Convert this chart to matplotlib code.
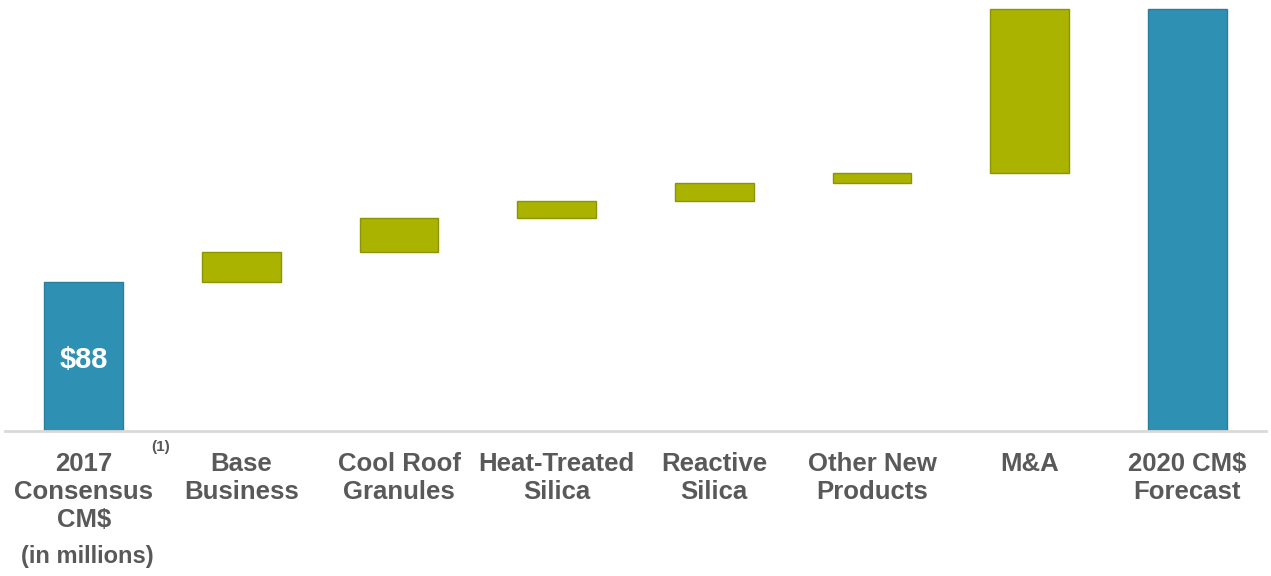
import matplotlib.pyplot as plt
import numpy as np

plt.rcParams['font.family'] = ['Liberation Sans', 'DejaVu Sans']

labels = ['2017\nConsensus\nCM$', 'Base\nBusiness', 'Cool Roof\nGranules',
          'Heat-Treated\nSilica', 'Reactive\nSilica', 'Other New\nProducts',
          'M&A', '2020 CM$\nForecast']
start_value = 88
steps = [18, 20, 10, 11, 6, 97]
end_value = start_value + sum(steps)

blue = '#2E91B3'
blue_edge = '#2A7D9B'
green = '#A9B300'
green_edge = '#8C9400'
text_gray = '#595959'

fig = plt.figure(figsize=(12.71, 5.76), dpi=100)
ax = fig.add_axes([5/1271, 145/576, 1261/1271, 423/576])

x = np.arange(len(labels))
w = 0.5

# totals
ax.bar(x[0], start_value, width=w, color=blue, edgecolor=blue_edge, linewidth=1)
ax.bar(x[-1], end_value, width=w, color=blue, edgecolor=blue_edge, linewidth=1)

# floating steps
bottoms = start_value + np.concatenate([[0], np.cumsum(steps)[:-1]])
ax.bar(x[1:-1], steps, bottom=bottoms, width=w, color=green,
       edgecolor=green_edge, linewidth=1)

ax.text(x[0], 42, '$' + str(start_value), ha='center', va='center',
        color='white', fontsize=21, fontweight='bold')

ax.set_xlim(-0.5, 7.5)
ax.set_ylim(0, 250.5)
ax.set_yticks([])
ax.set_xticks(x)
ax.set_xticklabels(labels, fontsize=18.5, fontweight='bold', color=text_gray,
                   linespacing=1.22, va='top')
ax.tick_params(axis='x', length=0, pad=15)

for s in ['top', 'right', 'left']:
    ax.spines[s].set_visible(False)
ax.spines['bottom'].set_color('#D9D9D9')
ax.spines['bottom'].set_linewidth(2)

# footnote marker and units
fig.text(161/1271, 1 - 447/576, '(1)', ha='center', va='center',
         fontsize=11, fontweight='bold', color=text_gray)
fig.text(87/1271, 1 - 557/576, '(in millions)', ha='center', va='center',
         fontsize=17, fontweight='bold', color=text_gray)

fig.savefig('out.png', dpi=100, facecolor='white')
